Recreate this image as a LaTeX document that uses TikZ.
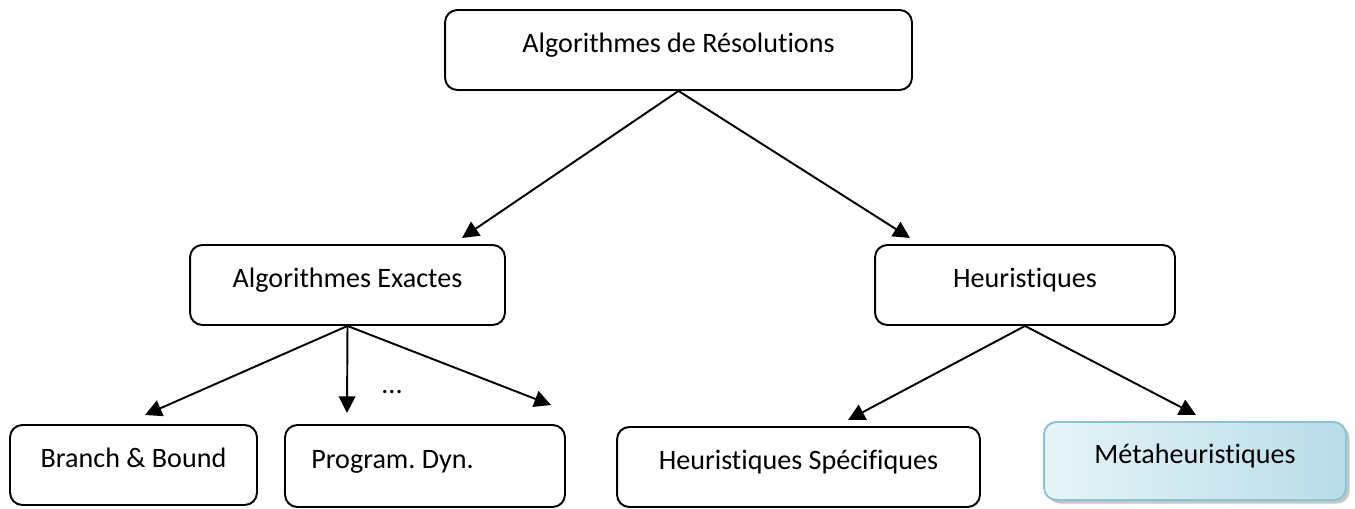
\documentclass[tikz,border=0pt]{standalone}
\usepackage{fontspec}
\setmainfont{Carlito}[Ligatures=NoCommon]
\usetikzlibrary{arrows.meta,shadows}
\frenchspacing
\definecolor{metaborder}{HTML}{8CC3D2}
\definecolor{metadark}{HTML}{B9DDE8}
\definecolor{metalight}{HTML}{E6F4F8}
\tikzset{
  algobox/.style={draw, line width=1.1pt, rounded corners=7pt, align=center,
    minimum height=1.6cm, text height=0.75em, text depth=0.45em,
    font=\fontsize{16}{19}\selectfont},
  fleche/.style={line width=1.1pt, -{Triangle[length=9.5pt,width=9.5pt]}},
  metabox/.style={algobox, draw=metaborder, left color=metalight, right color=metadark,
    drop shadow={shadow xshift=2pt, shadow yshift=-2pt, fill=black!45}}
}
\begin{document}
\begin{tikzpicture}[x=0.02cm,y=-0.02cm]
\useasboundingbox (0,0) rectangle (1355,509);
% niveau 0
\node[algobox, minimum width=9.34cm] (racine) at (678.5,50) {Algorithmes de Résolutions};
% niveau 1
\node[algobox, minimum width=6.3cm] (exactes) at (347.5,285) {Algorithmes Exactes};
\node[algobox, minimum width=6.0cm] (heur) at (1025,285) {Heuristiques};
% niveau 2
\node[algobox, minimum width=4.94cm] (bb) at (133.5,465) {Branch \& Bound};
\node[algobox, minimum width=5.6cm, minimum height=1.64cm] (pd) at (425,466) {Program. Dyn.\hspace*{1.3cm}};
\node[algobox, minimum width=7.26cm] (hs) at (798.5,467) {Heuristiques Spécifiques};
\node[metabox, minimum width=6.04cm, minimum height=1.56cm] (meta) at (1195,461) {Métaheuristiques};
\node[font=\fontsize{16}{19}\selectfont] (autres) at (392,392) {...};
% bouts des fleches
\coordinate (p1) at (462,238);
\coordinate (p2) at (910,238);
\coordinate (p3) at (145,415);
\coordinate (p4) at (347,413);
\coordinate (p5) at (551,405);
\coordinate (p6) at (848,420);
\coordinate (p7) at (1196,415);
\draw[fleche] (racine.south) -- (p1);
\draw[fleche] (racine.south) -- (p2);
\draw[fleche] (exactes.south) -- (p3);
\draw[fleche] (exactes.south) -- (p4);
\draw[fleche] (exactes.south) -- (p5);
\draw[fleche] (heur.south) -- (p6);
\draw[fleche] (heur.south) -- (p7);
\end{tikzpicture}
\end{document}
